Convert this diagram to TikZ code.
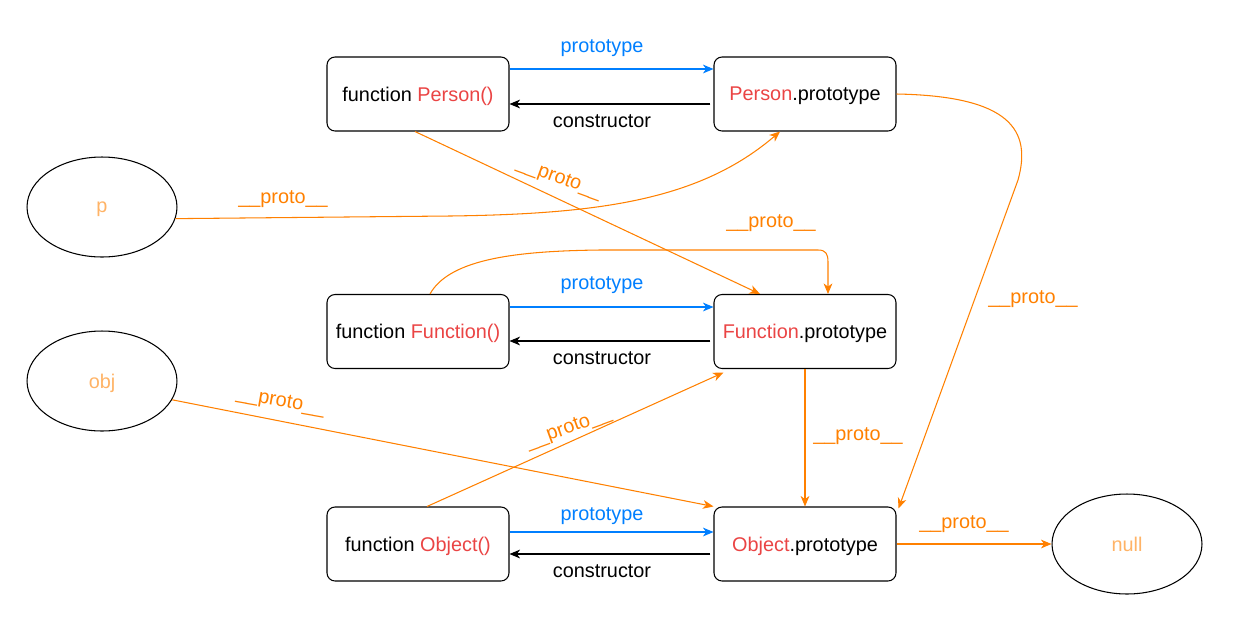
\documentclass[tikz,border=0pt]{standalone}
\usepackage{fontspec}
\setmainfont{Liberation Sans}
\usetikzlibrary{arrows.meta,shapes.geometric}
\definecolor{protoblue}{HTML}{007FFF}
\definecolor{protoorange}{HTML}{FF8000}
\definecolor{namered}{HTML}{EA4444}
\definecolor{lightorange}{HTML}{FFB366}
\tikzset{
  fnbox/.style={draw, line width=0.6pt, rounded corners=0.16cm, minimum width=3.64cm, minimum height=1.48cm},
  objell/.style={draw, ellipse, line width=0.6pt, minimum width=3cm, minimum height=2cm, text=lightorange},
  arr/.style={line width=0.6pt, -{Stealth[length=6pt,width=5pt,inset=1.8pt]}},
  protoline/.style={arr, protoorange},
  protolbl/.style={text=protoorange},
}
\begin{document}
\begin{tikzpicture}[x=0.02cm, y=-0.02cm, font=\fontsize{11.3}{13.5}\selectfont, every node/.append style={text depth=0pt}]
\useasboundingbox (0,0) rectangle (1245,630);
% boxes
\node [fnbox] (person) at (418,94) {function \textcolor{namered}{Person()}};
\node [fnbox] (pproto) at (805,94) {\textcolor{namered}{Person}.prototype};
\node [fnbox] (func) at (418,331.5) {function \textcolor{namered}{Function()}};
\node [fnbox] (fproto) at (805,331.5) {\textcolor{namered}{Function}.prototype};
\node [fnbox] (object) at (418,544) {function \textcolor{namered}{Object()}};
\node [fnbox] (oproto) at (805,544) {\textcolor{namered}{Object}.prototype};
% instances
\node [objell] (p) at (102,207) {p};
\node [objell] (objn) at (102,381) {obj};
\node [objell] (nulln) at (1127,544) {null};
% prototype / constructor
\draw [arr, protoblue] ([yshift=0.5cm]person.east) -- ([yshift=0.5cm]pproto.west);
\draw [arr] ([xshift=-0.06cm,yshift=-0.2cm]pproto.west) -- ([yshift=-0.2cm]person.east);
\node (lp1) at (602,46) {\textcolor{protoblue}{prototype}};
\node (lc1) at (602,121) {constructor};
\draw [arr, protoblue] ([yshift=0.49cm]func.east) -- ([yshift=0.49cm]fproto.west);
\draw [arr] ([xshift=-0.06cm,yshift=-0.19cm]fproto.west) -- ([yshift=-0.19cm]func.east);
\node (lp2) at (602,283) {\textcolor{protoblue}{prototype}};
\node (lc2) at (602,358) {constructor};
\draw [arr, protoblue] ([yshift=0.24cm]object.east) -- ([yshift=0.24cm]oproto.west);
\draw [arr] ([xshift=-0.06cm,yshift=-0.2cm]oproto.west) -- ([yshift=-0.2cm]object.east);
\node (lp3) at (602,514) {\textcolor{protoblue}{prototype}};
\node (lc3) at (602,571) {constructor};
% __proto__ links
\draw [protoline] ([xshift=-0.06cm]person.south) -- ([xshift=-0.9cm]fproto.north);
\node [protolbl, rotate=-20] (l1) at (560,177) {\_\_proto\_\_};
\draw [protoline] (p.-9) -- (450,216) .. controls (600,214) and (700,200) .. ([xshift=-0.5cm]pproto.south);
\node [protolbl] (l2) at (283,197) {\_\_proto\_\_};
\draw [protoline] ([xshift=0.24cm]func.north) .. controls (450,258) and (520,251) .. (600,250) -- (818,250) .. controls (826,250) and (828,254) .. (828,262) -- ([xshift=0.46cm]fproto.north);
\node [protolbl] (l3) at (771,221) {\_\_proto\_\_};
\draw [protoline] (pproto.east) .. controls (1010,96) and (1032,130) .. (1018,180) -- ([xshift=0.04cm,yshift=-0.04cm]oproto.north east);
\node [protolbl] (l4) at (1033,297) {\_\_proto\_\_};
\draw [protoline] (objn.-15) -- (oproto.north west);
\node [protolbl, rotate=-10] (l5) at (281,400) {\_\_proto\_\_};
\draw [protoline] ([xshift=0.18cm]object.north) -- ([xshift=0.2cm,yshift=-0.07cm]fproto.south west);
\node [protolbl, rotate=20] (l6) at (568,427) {\_\_proto\_\_};
\draw [protoline] (fproto.south) -- (oproto.north);
\node [protolbl] (l7) at (858,434) {\_\_proto\_\_};
\draw [protoline] (oproto.east) -- (nulln.west);
\node [protolbl] (l8) at (964,522) {\_\_proto\_\_};
\end{tikzpicture}
\end{document}
